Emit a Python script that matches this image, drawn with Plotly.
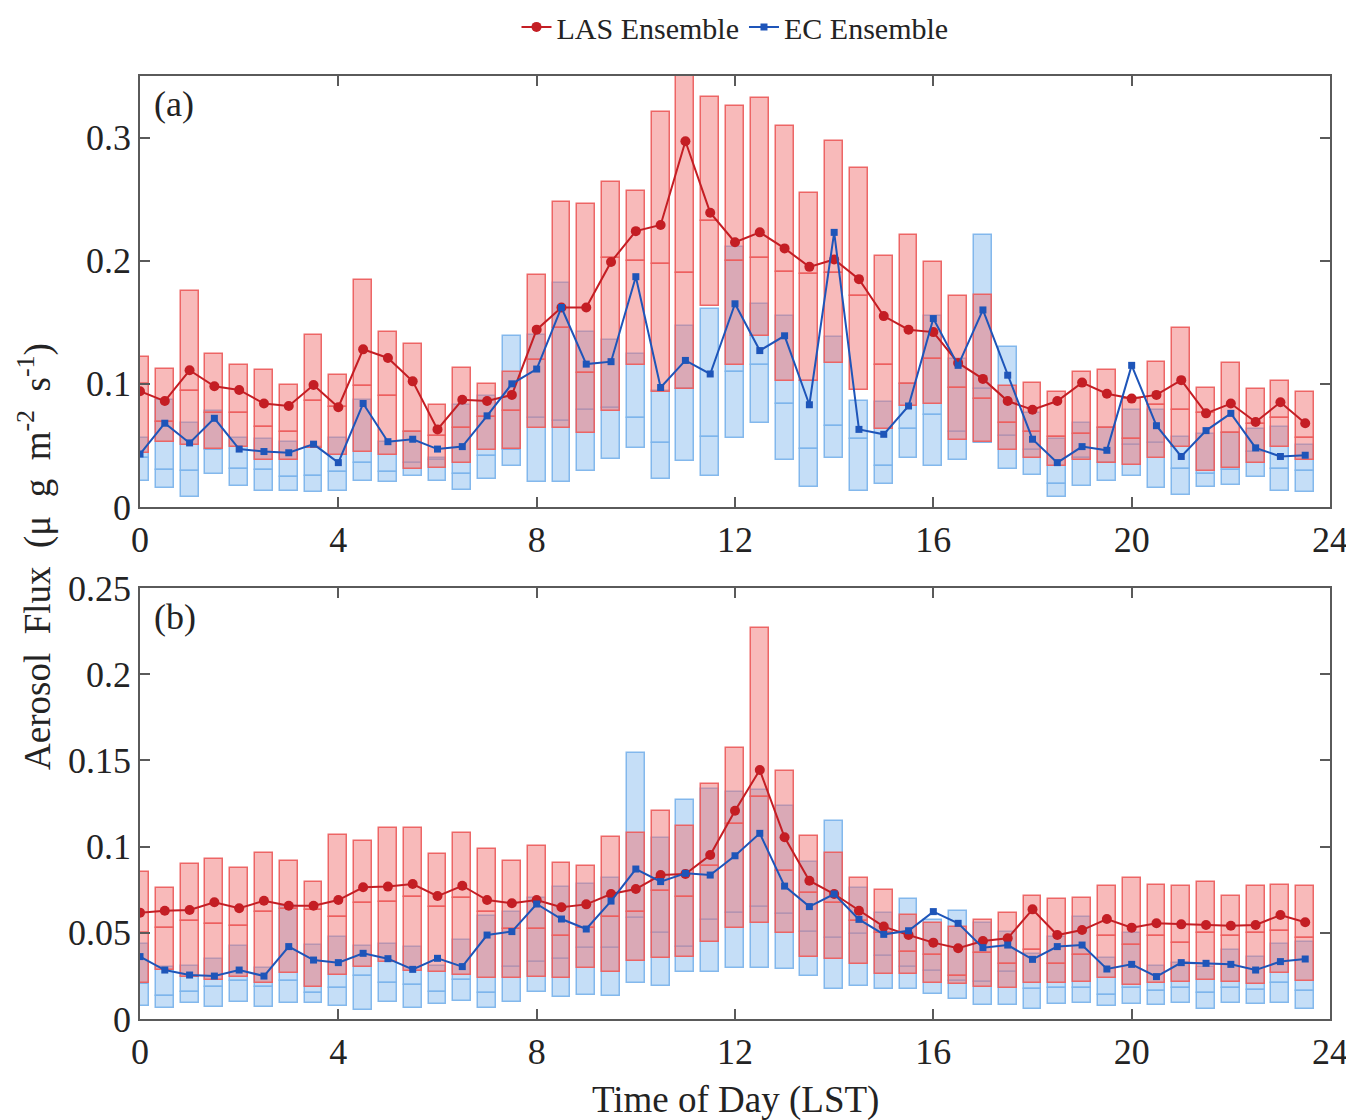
import plotly.graph_objects as go

# Time of day (half-hour bins)
hours = [i * 0.5 for i in range(48)]

# ---------------- Panel (a) ----------------
las_a_q75 = [0.122, 0.112, 0.175, 0.124, 0.115, 0.111, 0.099, 0.140, 0.107, 0.184, 0.142, 0.132,
             0.083, 0.113, 0.100, 0.110, 0.188, 0.248, 0.246, 0.264, 0.257, 0.321, 0.360, 0.333,
             0.326, 0.332, 0.309, 0.255, 0.297, 0.275, 0.204, 0.221, 0.199, 0.171, 0.172, 0.098,
             0.101, 0.093, 0.110, 0.111, 0.088, 0.118, 0.145, 0.097, 0.117, 0.096, 0.102, 0.093]
las_a_med = [0.100, 0.069, 0.094, 0.076, 0.076, 0.065, 0.061, 0.086, 0.081, 0.098, 0.090, 0.061,
             0.058, 0.064, 0.073, 0.078, 0.119, 0.145, 0.109, 0.202, 0.200, 0.197, 0.190, 0.232,
             0.200, 0.202, 0.191, 0.189, 0.190, 0.171, 0.115, 0.100, 0.120, 0.097, 0.088, 0.068,
             0.061, 0.057, 0.059, 0.064, 0.055, 0.083, 0.079, 0.076, 0.060, 0.067, 0.072, 0.056]
las_a_q25 = [0.044, 0.053, 0.050, 0.047, 0.049, 0.038, 0.038, 0.048, 0.042, 0.045, 0.042, 0.031,
             0.032, 0.036, 0.046, 0.047, 0.064, 0.064, 0.060, 0.078, 0.115, 0.093, 0.096, 0.163,
             0.115, 0.139, 0.102, 0.102, 0.117, 0.095, 0.063, 0.082, 0.084, 0.054, 0.053, 0.046,
             0.040, 0.033, 0.038, 0.036, 0.034, 0.040, 0.049, 0.029, 0.032, 0.036, 0.049, 0.038]
las_a_mean = [0.094, 0.086, 0.111, 0.098, 0.095, 0.084, 0.082, 0.099, 0.081, 0.128, 0.121, 0.102,
              0.063, 0.087, 0.086, 0.091, 0.144, 0.162, 0.162, 0.199, 0.224, 0.229, 0.297, 0.239,
              0.215, 0.223, 0.210, 0.195, 0.201, 0.185, 0.155, 0.144, 0.142, 0.117, 0.104, 0.086,
              0.079, 0.086, 0.101, 0.092, 0.088, 0.091, 0.103, 0.076, 0.084, 0.069, 0.085, 0.068]

ec_a_q75 = [0.056, 0.087, 0.068, 0.078, 0.056, 0.055, 0.053, 0.049, 0.056, 0.087, 0.053, 0.061,
            0.040, 0.083, 0.090, 0.139, 0.140, 0.182, 0.142, 0.136, 0.124, 0.094, 0.147, 0.161,
            0.211, 0.165, 0.155, 0.102, 0.138, 0.086, 0.085, 0.100, 0.155, 0.120, 0.221, 0.130,
            0.076, 0.055, 0.068, 0.064, 0.079, 0.079, 0.057, 0.059, 0.060, 0.063, 0.065, 0.050]
ec_a_med = [0.040, 0.030, 0.029, 0.046, 0.031, 0.030, 0.024, 0.025, 0.028, 0.036, 0.028, 0.036,
            0.038, 0.027, 0.041, 0.046, 0.072, 0.070, 0.079, 0.080, 0.072, 0.052, 0.096, 0.057,
            0.110, 0.115, 0.084, 0.047, 0.066, 0.055, 0.033, 0.063, 0.075, 0.061, 0.096, 0.058,
            0.046, 0.019, 0.040, 0.036, 0.050, 0.052, 0.031, 0.027, 0.030, 0.045, 0.031, 0.029]
ec_a_q25 = [0.021, 0.015, 0.008, 0.027, 0.017, 0.013, 0.013, 0.012, 0.013, 0.021, 0.020, 0.025,
            0.021, 0.014, 0.023, 0.033, 0.020, 0.020, 0.029, 0.039, 0.048, 0.023, 0.037, 0.025,
            0.056, 0.068, 0.038, 0.016, 0.040, 0.013, 0.019, 0.040, 0.033, 0.038, 0.052, 0.031,
            0.026, 0.008, 0.017, 0.021, 0.025, 0.015, 0.010, 0.016, 0.018, 0.024, 0.013, 0.012]
ec_a_mean = [0.043, 0.068, 0.052, 0.072, 0.047, 0.045, 0.044, 0.051, 0.036, 0.084, 0.053, 0.055,
             0.047, 0.049, 0.074, 0.100, 0.112, 0.162, 0.116, 0.118, 0.187, 0.097, 0.119, 0.108,
             0.165, 0.127, 0.139, 0.083, 0.223, 0.063, 0.059, 0.082, 0.153, 0.115, 0.160, 0.107,
             0.055, 0.036, 0.049, 0.046, 0.115, 0.066, 0.041, 0.062, 0.076, 0.048, 0.041, 0.042]

# ---------------- Panel (b) ----------------
las_b_q75 = [0.0855, 0.0758, 0.0899, 0.0926, 0.0878, 0.0961, 0.0916, 0.0793, 0.1067, 0.1034, 0.111, 0.111,
             0.0955, 0.1077, 0.0986, 0.0918, 0.1003, 0.0907, 0.0887, 0.1058, 0.1081, 0.1208, 0.1121, 0.1363,
             0.157, 0.2266, 0.144, 0.1061, 0.0961, 0.0816, 0.0748, 0.0603, 0.0555, 0.0532, 0.0574, 0.0613,
             0.0713, 0.0696, 0.070, 0.0773, 0.0816, 0.0777, 0.0773, 0.0797, 0.0713, 0.0771, 0.0777, 0.0771]
las_b_med = [0.050, 0.053, 0.057, 0.055, 0.054, 0.062, 0.064, 0.063, 0.059, 0.067, 0.068, 0.071,
             0.065, 0.070, 0.062, 0.052, 0.052, 0.048, 0.053, 0.059, 0.062, 0.074, 0.071, 0.089,
             0.113, 0.129, 0.086, 0.073, 0.067, 0.057, 0.050, 0.039, 0.037, 0.025, 0.038, 0.032,
             0.040, 0.032, 0.037, 0.048, 0.043, 0.048, 0.044, 0.050, 0.048, 0.050, 0.051, 0.047]
las_b_q25 = [0.0211, 0.0284, 0.0242, 0.0226, 0.0242, 0.0211, 0.0265, 0.0184, 0.0255, 0.0304, 0.0333, 0.0278,
             0.0271, 0.0255, 0.0236, 0.0236, 0.0246, 0.0236, 0.0294, 0.0275, 0.0336, 0.0352, 0.0358, 0.0445,
             0.0526, 0.0555, 0.0497, 0.0362, 0.0348, 0.0319, 0.0259, 0.0259, 0.0207, 0.0201, 0.0188, 0.0182,
             0.0207, 0.0207, 0.0217, 0.0236, 0.0197, 0.0211, 0.0217, 0.0226, 0.0213, 0.0201, 0.0265, 0.0222]
las_b_mean = [0.0617, 0.0628, 0.0632, 0.0677, 0.0642, 0.0686, 0.0657, 0.0657, 0.069, 0.0764, 0.0768, 0.0783,
              0.0713, 0.0773, 0.069, 0.0671, 0.069, 0.0648, 0.0665, 0.0725, 0.0754, 0.0835, 0.0841, 0.0951,
              0.1208, 0.1444, 0.1054, 0.0802, 0.0725, 0.0628, 0.0536, 0.0487, 0.0443, 0.041, 0.0452, 0.0468,
              0.0636, 0.0487, 0.0516, 0.058, 0.053, 0.0555, 0.0549, 0.0545, 0.0541, 0.0545, 0.0603, 0.0561]

ec_b_q75 = [0.0435, 0.0304, 0.0309, 0.0348, 0.0423, 0.0298, 0.0657, 0.0429, 0.0474, 0.0425, 0.0435, 0.042,
            0.0309, 0.0458, 0.0599, 0.062, 0.070, 0.0768, 0.0783, 0.082, 0.1541, 0.1048, 0.127, 0.1334,
            0.1315, 0.1328, 0.1236, 0.0909, 0.1148, 0.0758, 0.0613, 0.0694, 0.0574, 0.0628, 0.0555, 0.0503,
            0.0375, 0.0474, 0.0594, 0.0352, 0.0497, 0.0309, 0.0323, 0.0304, 0.040, 0.0362, 0.0433, 0.0449]
ec_b_med = [0.020, 0.0135, 0.0155, 0.0188, 0.0222, 0.0184, 0.0222, 0.015, 0.0178, 0.0251, 0.0207, 0.0197,
            0.0155, 0.0226, 0.015, 0.030, 0.0329, 0.0348, 0.041, 0.041, 0.0584, 0.0501, 0.0416, 0.0574,
            0.0613, 0.0648, 0.0607, 0.0507, 0.0468, 0.0493, 0.0367, 0.030, 0.0278, 0.022, 0.0217, 0.0275,
            0.0174, 0.018, 0.018, 0.0139, 0.0178, 0.016, 0.0182, 0.0153, 0.0182, 0.0168, 0.0211, 0.016]
ec_b_q25 = [0.0077, 0.0062, 0.0091, 0.0068, 0.0101, 0.0072, 0.0095, 0.0091, 0.0077, 0.0052, 0.0101, 0.0062,
            0.0085, 0.0106, 0.0062, 0.0097, 0.0159, 0.013, 0.0139, 0.0135, 0.0207, 0.0193, 0.0271, 0.0275,
            0.0294, 0.0294, 0.0288, 0.0249, 0.0174, 0.0193, 0.0174, 0.0174, 0.0143, 0.0116, 0.0081, 0.0081,
            0.0056, 0.0087, 0.0091, 0.0075, 0.0085, 0.0081, 0.0095, 0.0058, 0.0091, 0.0085, 0.0091, 0.0058]
ec_b_mean = [0.0362, 0.0284, 0.0255, 0.0249, 0.0284, 0.0249, 0.042, 0.0342, 0.0327, 0.0381, 0.035, 0.0288,
             0.0352, 0.0304, 0.0487, 0.0507, 0.0667, 0.058, 0.0522, 0.0684, 0.087, 0.0797, 0.0845, 0.0835,
             0.0947, 0.1077, 0.0771, 0.0652, 0.0725, 0.0578, 0.0491, 0.0512, 0.0623, 0.0555, 0.0414, 0.0429,
             0.0346, 0.042, 0.0429, 0.029, 0.0317, 0.0246, 0.0327, 0.0323, 0.0317, 0.0284, 0.0333, 0.0348]

x_ticks = [0, 4, 8, 12, 16, 20, 24]
ya_ticks = [0, 0.1, 0.2, 0.3]
ya_ticktext = ["0", "0.1", "0.2", "0.3"]
yb_ticks = [0, 0.05, 0.1, 0.15, 0.2, 0.25]
yb_ticktext = ["0", "0.05", "0.1", "0.15", "0.2", "0.25"]

# ---------------- Styles ----------------
RED_FILL = "rgba(240,110,110,0.48)"
RED_EDGE = "rgba(236,95,95,0.95)"
BLUE_FILL = "rgba(150,195,240,0.55)"
BLUE_EDGE = "rgba(125,180,235,0.95)"
RED_LINE = "rgb(196,30,36)"
BLUE_LINE = "rgb(30,85,185)"
BOX_W = 0.36
FONT = "Liberation Serif, Times New Roman, serif"
TXT = "rgb(35,35,35)"

fig = go.Figure()


def add_box(xa, ya, q75, med, q25, fill, edge):
    # lower half (q25 -> median) and upper half (median -> q75); the shared edge is the median line
    fig.add_trace(go.Bar(x=hours, y=[m - b for m, b in zip(med, q25)], base=q25, width=BOX_W,
                         marker=dict(color=fill, line=dict(color=edge, width=1.5)),
                         xaxis=xa, yaxis=ya, showlegend=False, hoverinfo="skip"))
    fig.add_trace(go.Bar(x=hours, y=[t - m for t, m in zip(q75, med)], base=med, width=BOX_W,
                         marker=dict(color=fill, line=dict(color=edge, width=1.5)),
                         xaxis=xa, yaxis=ya, showlegend=False, hoverinfo="skip"))


def add_panel(xa, ya, r75, rmed, r25, rmean, b75, bmed, b25, bmean, show_legend):
    add_box(xa, ya, b75, bmed, b25, BLUE_FILL, BLUE_EDGE)
    add_box(xa, ya, r75, rmed, r25, RED_FILL, RED_EDGE)
    fig.add_trace(go.Scatter(x=hours, y=rmean, mode="lines+markers", name="LAS Ensemble",
                             xaxis=xa, yaxis=ya, legendrank=1,
                             line=dict(color=RED_LINE, width=2),
                             marker=dict(symbol="circle", size=10, color=RED_LINE),
                             showlegend=show_legend))
    fig.add_trace(go.Scatter(x=hours, y=bmean, mode="lines+markers", name="EC Ensemble",
                             xaxis=xa, yaxis=ya, legendrank=2,
                             line=dict(color=BLUE_LINE, width=2),
                             marker=dict(symbol="square", size=7, color=BLUE_LINE),
                             showlegend=show_legend))


add_panel("x", "y", las_a_q75, las_a_med, las_a_q25, las_a_mean,
          ec_a_q75, ec_a_med, ec_a_q25, ec_a_mean, True)
add_panel("x2", "y2", las_b_q75, las_b_med, las_b_q25, las_b_mean,
          ec_b_q75, ec_b_med, ec_b_q25, ec_b_mean, False)

axis_common = dict(showline=True, linecolor="rgb(90,90,90)", linewidth=1.5, mirror="ticks",
                   ticks="inside", ticklen=10, tickwidth=1.5, tickcolor="rgb(90,90,90)",
                   showgrid=False, zeroline=False, automargin=False,
                   tickfont=dict(family=FONT, size=36, color=TXT))

# the page body adds an 8 px offset, so the figure is 8 px smaller and margins compensate
fig.update_layout(
    width=1346, height=1112,
    paper_bgcolor="white", plot_bgcolor="white",
    margin=dict(l=132, r=24, t=68, b=101, autoexpand=False),
    barmode="overlay", bargap=0,
    font=dict(family=FONT, color=TXT),
    xaxis=dict(domain=[0, 1], anchor="y", range=[0, 24], tickvals=x_ticks, **axis_common),
    yaxis=dict(domain=[0.543, 1], anchor="x", range=[0, 0.35], tickvals=ya_ticks,
               ticktext=ya_ticktext, **axis_common),
    xaxis2=dict(domain=[0, 1], anchor="y2", range=[0, 24], tickvals=x_ticks, **axis_common),
    yaxis2=dict(domain=[0, 0.457], anchor="x2", range=[0, 0.25], tickvals=yb_ticks,
                ticktext=yb_ticktext, **axis_common),
    legend=dict(orientation="h", x=0.5, xanchor="center", yref="container", y=0.983,
                yanchor="middle",
                font=dict(family=FONT, size=30, color=TXT),
                bgcolor="rgba(0,0,0,0)", tracegroupgap=0),
    showlegend=True,
    annotations=[
        dict(text="(a)", xref="x domain", yref="y domain", x=0.01, y=0.985,
             xanchor="left", yanchor="top", showarrow=False,
             font=dict(family=FONT, size=36, color=TXT)),
        dict(text="(b)", xref="x2 domain", yref="y2 domain", x=0.01, y=0.985,
             xanchor="left", yanchor="top", showarrow=False,
             font=dict(family=FONT, size=36, color=TXT)),
        dict(text="Time of Day (LST)", xref="paper", yref="paper", x=0.5, y=-0.086,
             xanchor="center", yanchor="middle", showarrow=False,
             font=dict(family=FONT, size=37, color=TXT)),
        dict(text="Aerosol  Flux  (\u03bc  g  m<sup>-2</sup>  s<sup>-1</sup>)",
             xref="paper", yref="paper", x=-0.0882, y=0.49, textangle=-90,
             xanchor="center", yanchor="middle", showarrow=False,
             font=dict(family=FONT, size=37, color=TXT)),
    ],
)

fig.write_html("out.html")
